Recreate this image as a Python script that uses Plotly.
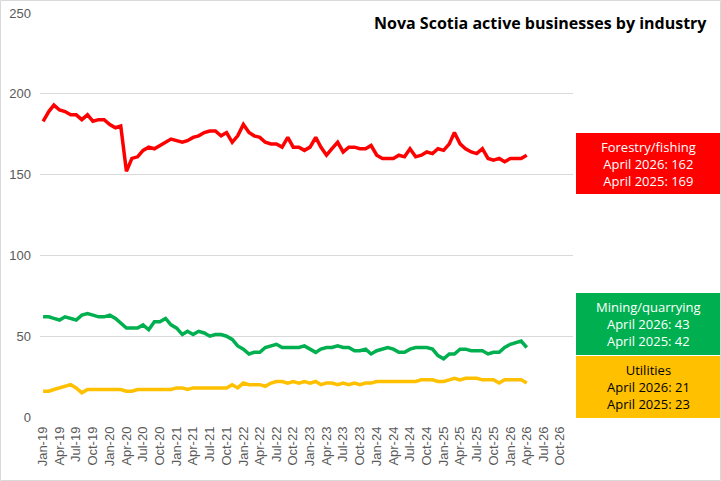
import plotly.graph_objects as go
import pandas as pd

months = pd.date_range("2019-01-01", "2026-04-01", freq="MS")

forestry_fishing = [183, 189, 193, 190, 189, 187, 187, 184, 187, 183, 184, 184,
                    181, 179, 180, 152, 160, 161, 165, 167, 166, 168, 170, 172,
                    171, 170, 171, 173, 174, 176, 177, 177, 174, 176, 170, 174,
                    181, 176, 174, 173, 170, 169, 169, 167, 173, 167, 167, 165,
                    167, 173, 167, 162, 166, 170, 164, 167, 167, 166, 166, 168,
                    162, 160, 160, 160, 162, 161, 166, 161, 162, 164, 163, 166,
                    165, 169, 176, 169, 166, 164, 163, 166, 160, 159, 160, 158,
                    160, 160, 160, 162]

mining_quarrying = [62, 62, 61, 60, 62, 61, 60, 63, 64, 63, 62, 62,
                    63, 61, 58, 55, 55, 55, 57, 54, 59, 59, 61, 57,
                    55, 51, 53, 51, 53, 52, 50, 51, 51, 50, 48, 44,
                    42, 39, 40, 40, 43, 44, 45, 43, 43, 43, 43, 44,
                    42, 40, 42, 43, 43, 44, 43, 43, 41, 41, 42, 39,
                    41, 42, 43, 42, 40, 40, 42, 43, 43, 43, 42, 38,
                    36, 39, 39, 42, 42, 41, 41, 41, 39, 40, 40, 43,
                    45, 46, 47, 43]

utilities = [16, 16, 17, 18, 19, 20, 18, 15, 17, 17, 17, 17,
             17, 17, 17, 16, 16, 17, 17, 17, 17, 17, 17, 17,
             18, 18, 17, 18, 18, 18, 18, 18, 18, 18, 20, 18,
             21, 20, 20, 20, 19, 21, 22, 22, 21, 22, 21, 22,
             21, 22, 20, 21, 21, 20, 21, 20, 21, 20, 21, 21,
             22, 22, 22, 22, 22, 22, 22, 22, 23, 23, 23, 22,
             22, 23, 24, 23, 24, 24, 24, 23, 23, 23, 21, 23,
             23, 23, 23, 21]

series_names = ["Forestry/fishing", "Mining/quarrying", "Utilities"]
series_colors = ["#FF0000", "#00B050", "#FFC000"]
series_values = [forestry_fishing, mining_quarrying, utilities]

box_labels = [
    "Forestry/fishing<br>April 2026: 162<br>April 2025: 169",
    "Mining/quarrying<br>April 2026: 43<br>April 2025: 42",
    "Utilities<br>April 2026: 21<br>April 2025: 23",
]
box_text_colors = ["white", "white", "black"]

W, H = 721, 481
L, R, T, B = 40, 148, 13, 64
pw, ph = W - L - R, H - T - B

def px_x(px):
    return (px - L) / pw

def px_y(py):
    return (H - B - py) / ph

fig = go.Figure()
for name, vals, col in zip(series_names, series_values, series_colors):
    fig.add_trace(go.Scatter(x=months, y=vals, mode="lines", name=name,
                             line=dict(color=col, width=3.5), showlegend=False,
                             hoverinfo="skip"))

box_rows = [(133, 194), (293, 355), (356, 418)]
shapes = []
annotations = []
for (y0, y1), col, txt, tcol in zip(box_rows, series_colors, box_labels, box_text_colors):
    shapes.append(dict(type="rect", xref="paper", yref="paper",
                       x0=px_x(576), x1=px_x(721), y0=px_y(y1), y1=px_y(y0),
                       fillcolor=col, line=dict(width=0), layer="above"))
    annotations.append(dict(xref="paper", yref="paper", x=px_x(648.5),
                            y=px_y((y0 + y1) / 2), text=txt, showarrow=False,
                            xanchor="center", yanchor="middle", align="center",
                            font=dict(family="Open Sans", size=13, color=tcol)))

annotations.append(dict(xref="paper", yref="paper", x=px_x(709), y=px_y(23),
                        xanchor="right", yanchor="middle", showarrow=False,
                        text="<b>Nova Scotia active businesses by industry</b>",
                        font=dict(family="Open Sans", size=16, color="black")))

shapes.append(dict(type="rect", xref="paper", yref="paper",
                   x0=px_x(0.5), x1=px_x(720.5), y0=px_y(480.5), y1=px_y(0.5),
                   line=dict(color="#D9D9D9", width=1), fillcolor="rgba(0,0,0,0)"))

fig.update_layout(
    width=W, height=H, autosize=False,
    margin=dict(l=L, r=R, t=T, b=B, pad=0, autoexpand=False),
    paper_bgcolor="white", plot_bgcolor="white",
    shapes=shapes, annotations=annotations,
    font=dict(family="Liberation Sans, Arial", size=12, color="#595959"),
)
fig.update_xaxes(type="date", range=["2018-12-15", "2026-12-10"],
                 tick0="2019-01-01", dtick="M3", tickformat="%b-%y",
                 tickangle=-90, showgrid=False, showline=False, ticks="",
                 automargin=False, ticklabelstandoff=6,
                 tickfont=dict(size=13, color="#595959"))
fig.update_yaxes(range=[0, 250], dtick=50, showgrid=True, gridcolor="#D9D9D9",
                 gridwidth=1, zeroline=False, showline=False, ticks="",
                 automargin=False, ticklabelstandoff=8,
                 tickfont=dict(size=13, color="#595959"))

fig.write_html("out.html", config={"displayModeBar": False},
               post_script="document.body.style.margin='0';document.body.style.overflow='hidden';")
